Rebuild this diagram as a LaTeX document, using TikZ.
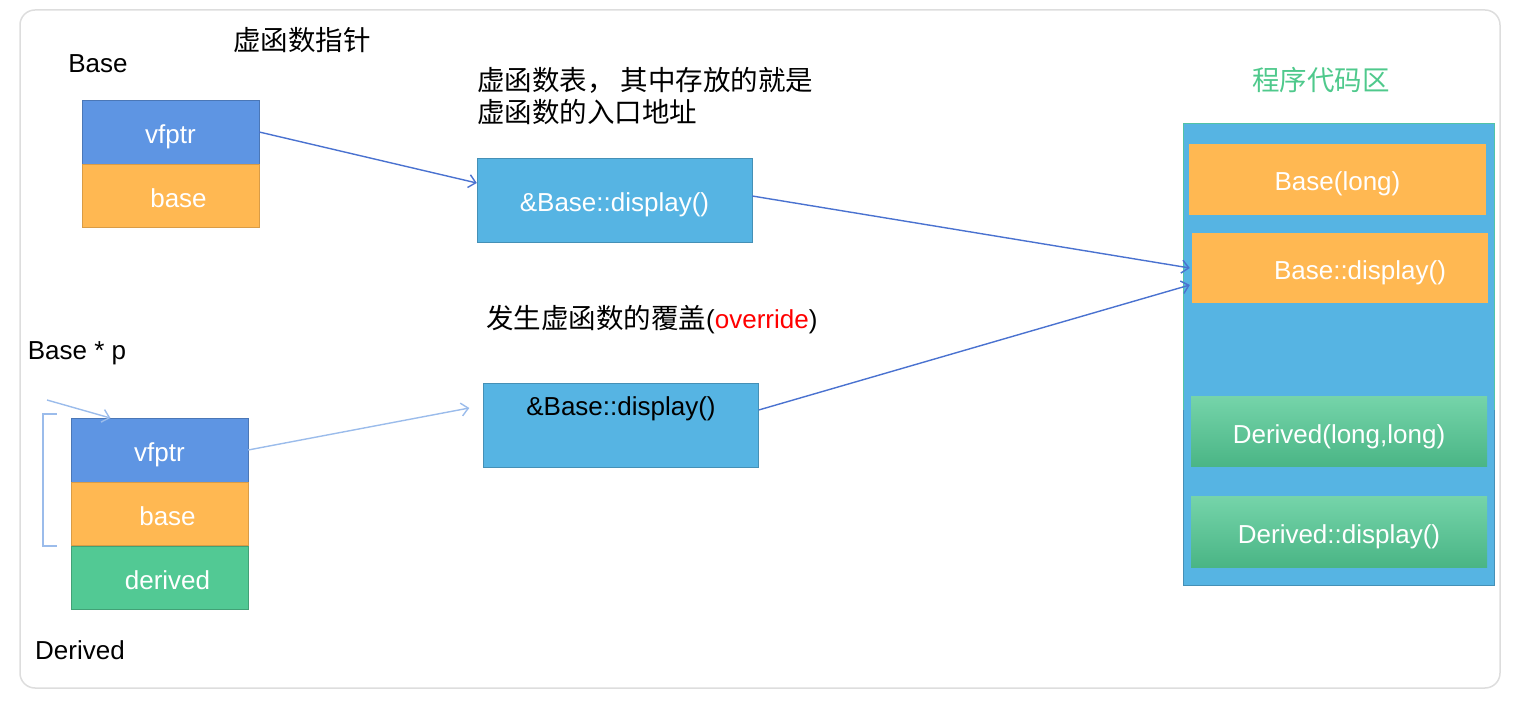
\documentclass[tikz,border=0pt]{standalone}
\usepackage{fontspec}
\setmainfont{Liberation Sans}
\newfontfamily\cjk{Noto Sans CJK SC}
\usetikzlibrary{positioning,arrows.meta}

\definecolor{ptrblue}{HTML}{5E95E3}
\definecolor{baseorange}{HTML}{FFB852}
\definecolor{derivedgreen}{HTML}{52C994}
\definecolor{tableblue}{HTML}{56B4E3}
\definecolor{arrowblue}{HTML}{4A72D0}
\definecolor{arrowlight}{HTML}{9BBCEB}
\definecolor{framegray}{HTML}{DDDDDD}
\definecolor{codegreen}{HTML}{4FC98C}

\tikzset{
  boxtext/.style={font=\fontsize{26}{30}\selectfont, text height=23pt, text depth=0pt},
  field/.style={boxtext, minimum width=177pt, minimum height=63.5pt, inner sep=0pt, text=white},
  vtable/.style={boxtext, fill=tableblue, draw=tableblue!80!black, minimum width=275pt, minimum height=84pt,
    inner sep=0pt},
  codebox/.style={boxtext, minimum width=297pt, minimum height=71pt, inner sep=0pt, text=white},
  ptrarrow/.style={-{Straight Barb[length=7pt, width=13pt]}, draw=arrowblue, line width=1.4pt},
  lightarrow/.style={-{Straight Barb[length=7pt, width=13pt]}, draw=arrowlight, line width=1.4pt},
  plain/.style={font=\fontsize{26}{30}\selectfont, inner sep=0pt},
  cjklabel/.style={font=\cjk\fontsize{27.5}{32}\selectfont, inner sep=0pt}
}

\begin{document}
\begin{tikzpicture}[x=1pt, y=-1pt]
\useasboundingbox (0,0) rectangle (1519,708);
%% outer frame
\draw[framegray, line width=1.5pt, rounded corners=15pt] (20,10) rectangle (1500,688);

%% Base object
\node[plain] (lblbase) at (98,64) {Base};
\node[cjklabel] (lblptr) at (302,40) {虚函数指针};
\node[field, fill=ptrblue, draw=ptrblue!80!black] (vfptr1) at (170.5,132) {vfptr};
\node[field, fill=baseorange, draw=baseorange!85!black, below=0pt of vfptr1] (base1) {\hspace*{16pt}base};

%% first vtable
\node[cjklabel, align=left, anchor=west] (lbltable) at (477,96) {虚函数表， 其中存放的就是\\虚函数的入口地址};
\node[vtable, text=white] (vt1) at (614.5,200) {\&Base::display()};

%% Derived object
\node[plain] (lblp) at (77,353) {Base * p};
\node[field, fill=ptrblue, draw=ptrblue!80!black] (vfptr2) at (159.5,450) {vfptr};
\node[field, fill=baseorange, draw=baseorange!85!black, below=0pt of vfptr2] (base2) {\hspace*{16pt}base};
\node[field, fill=derivedgreen, draw=derivedgreen!80!black, below=0pt of base2] (derived2) {\hspace*{16pt}derived};
\node[plain] (lblderived) at (80,650) {Derived};

%% second vtable
\node[cjklabel, anchor=west] (lbloverride) at (486,320) {发生虚函数的覆盖{\fontspec{Liberation Sans}\fontsize{26}{30}\selectfont(\textcolor{red}{override})}};
\node[vtable, label={[plain, anchor=north, yshift=-14pt]north:\&Base::display()}] (vt2) at (621,425) {};

%% code area
\node[cjklabel, text=codegreen] (lblcode) at (1321,80) {程序代码区};
\draw[fill=tableblue, draw=tableblue!80!black] (1183,123) rectangle (1494,585);
\draw[codegreen!70!tableblue] (1183,410) -- (1183,123) -- (1494,123) -- (1494,410);
\node[codebox, fill=baseorange] (ctor1) at (1337.5,179.5) {Base(long)};
\node[codebox, fill=baseorange, minimum width=296pt, minimum height=70pt] (disp1) at (1340,268) {\hspace*{40pt}Base::display()};
\node[codebox, top color=derivedgreen!80!white, bottom color=derivedgreen!90!black, minimum width=296pt, minimum height=70pt] (ctor2) at (1339,432) {Derived(long,long)};
\node[codebox, top color=derivedgreen!80!white, bottom color=derivedgreen!90!black, minimum width=296pt, minimum height=70pt] (disp2) at (1339,532) {Derived::display()};

%% connectors
\draw[ptrarrow] (vfptr1.east) -- ([yshift=17pt]vt1.west);
\draw[ptrarrow] ([yshift=4pt]vt1.east) -- ([xshift=-2pt]disp1.west);
\draw[ptrarrow] ([yshift=15pt]vt2.east) -- ([xshift=-2pt, yshift=-17pt]disp1.west);
\draw[lightarrow] (vfptr2.east) -- ([xshift=-14pt, yshift=17pt]vt2.west);
\coordinate (pin) at (47,400);
\draw[lightarrow] (pin) -- ([xshift=-49pt]vfptr2.north);
\draw[arrowlight, line width=1.4pt] ([xshift=-14pt, yshift=4pt]vfptr2.north west) -- ++(-14,0) |- ([xshift=-14pt]base2.south west);
\end{tikzpicture}
\end{document}
